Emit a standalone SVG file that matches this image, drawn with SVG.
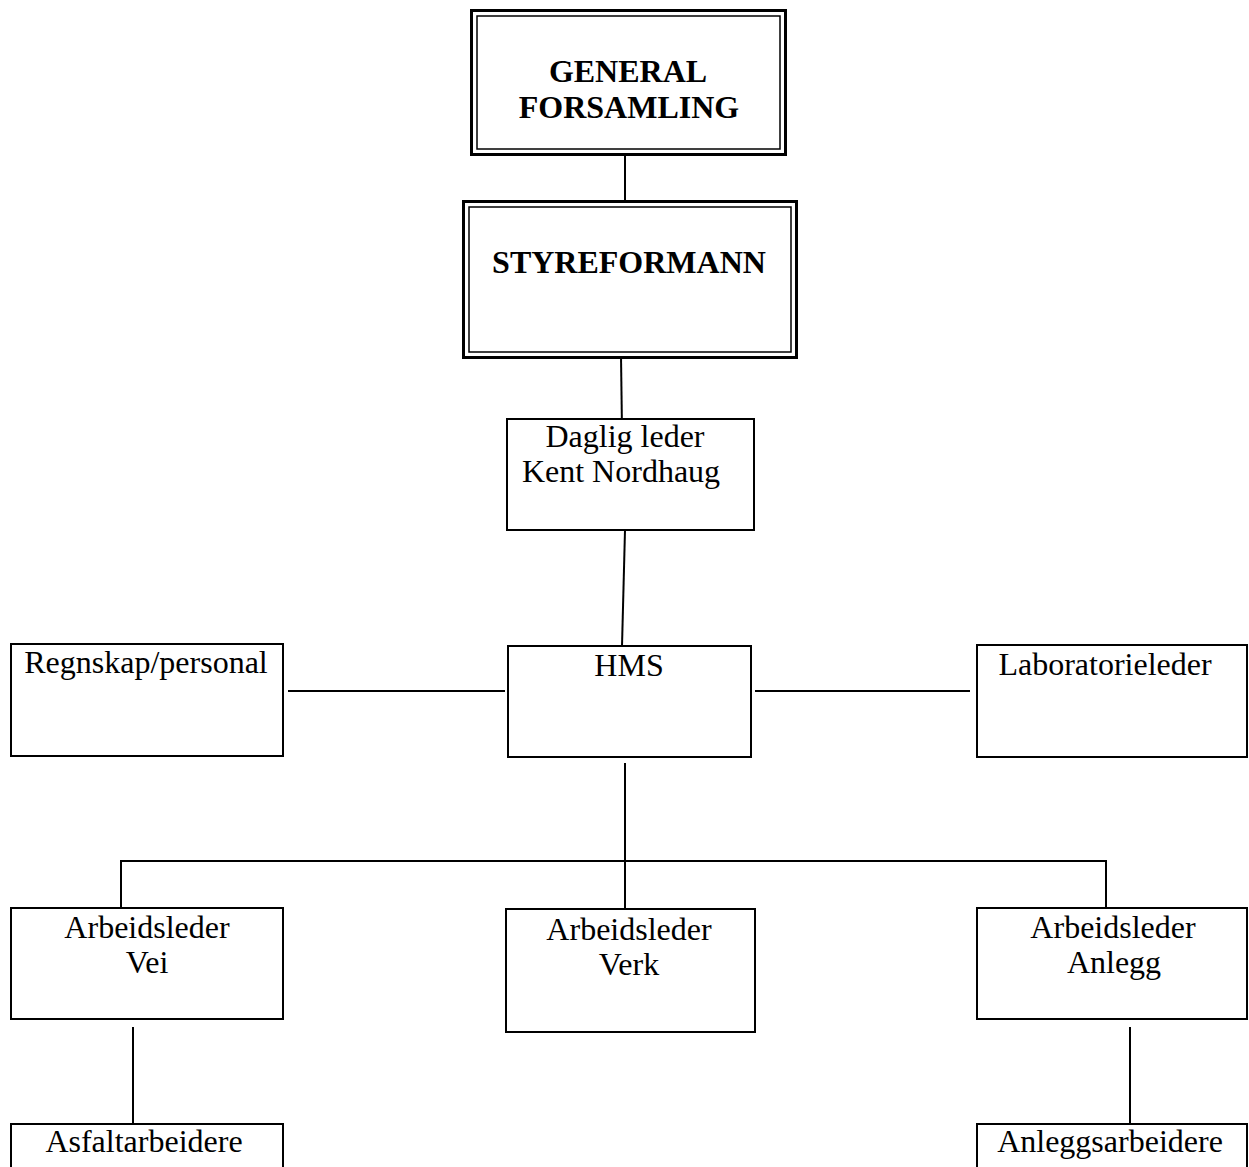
<svg xmlns="http://www.w3.org/2000/svg" width="1249" height="1167" viewBox="0 0 1249 1167">
<style>
.box{fill:#fff;stroke:#000;stroke-width:2}
.outer{fill:#fff;stroke:#000;stroke-width:3}
.inner{fill:none;stroke:#000;stroke-width:1.5}
.t{font-family:"Liberation Serif","Times New Roman",serif;font-size:32px;fill:#000;text-anchor:middle}
.b{font-weight:bold}
#connectors line{stroke:#000;stroke-width:2}
</style>
<rect width="1249" height="1167" fill="#fff"/>
<g id="connectors">
<line x1="625" y1="150" x2="625" y2="202"/>
<line x1="621" y1="356" x2="622" y2="430"/>
<line x1="625" y1="530" x2="622" y2="646"/>
<line x1="288" y1="691" x2="505" y2="691"/>
<line x1="755" y1="691" x2="970" y2="691"/>
<line x1="625" y1="763" x2="625" y2="909"/>
<line x1="120" y1="861" x2="1107" y2="861"/>
<line x1="121" y1="860" x2="121" y2="908"/>
<line x1="1106" y1="860" x2="1106" y2="912"/>
<line x1="133" y1="1027" x2="133" y2="1123"/>
<line x1="1130" y1="1027" x2="1130" y2="1123"/>
</g>
<g id="general">
<rect class="outer" x="471.5" y="10.5" width="314" height="144"/>
<rect class="inner" x="477" y="16" width="303" height="133"/>
<text class="t b" x="628" y="82">GENERAL</text>
<text class="t b" x="629" y="118">FORSAMLING</text>
</g>
<g id="styreformann">
<rect class="outer" x="463.5" y="201.5" width="333" height="156"/>
<rect class="inner" x="469" y="207" width="322" height="145"/>
<text class="t b" x="629" y="273">STYREFORMANN</text>
</g>
<g id="daglig">
<rect class="box" x="507" y="419" width="247" height="111"/>
<text class="t" x="625" y="447">Daglig leder</text>
<text class="t" x="621" y="482">Kent Nordhaug</text>
</g>
<g id="hms">
<rect class="box" x="508" y="646" width="243" height="111"/>
<text class="t" x="629" y="676">HMS</text>
</g>
<g id="regnskap">
<rect class="box" x="11" y="644" width="272" height="112"/>
<text class="t" x="146" y="673">Regnskap/personal</text>
</g>
<g id="laboratorie">
<rect class="box" x="977" y="645" width="270" height="112"/>
<text class="t" x="1105" y="675">Laboratorieleder</text>
</g>
<g id="vei">
<rect class="box" x="11" y="908" width="272" height="111"/>
<text class="t" x="147" y="938">Arbeidsleder</text>
<text class="t" x="147" y="973">Vei</text>
</g>
<g id="verk">
<rect class="box" x="506" y="909" width="249" height="123"/>
<text class="t" x="629" y="940">Arbeidsleder</text>
<text class="t" x="629" y="975">Verk</text>
</g>
<g id="anlegg">
<rect class="box" x="977" y="908" width="270" height="111"/>
<text class="t" x="1113" y="938">Arbeidsleder</text>
<text class="t" x="1114" y="973">Anlegg</text>
</g>
<g id="asfalt">
<rect class="box" x="11" y="1124" width="272" height="60"/>
<text class="t" x="144" y="1152">Asfaltarbeidere</text>
</g>
<g id="anleggsarbeidere">
<rect class="box" x="977" y="1124" width="270" height="60"/>
<text class="t" x="1110" y="1152">Anleggsarbeidere</text>
</g>
</svg>
